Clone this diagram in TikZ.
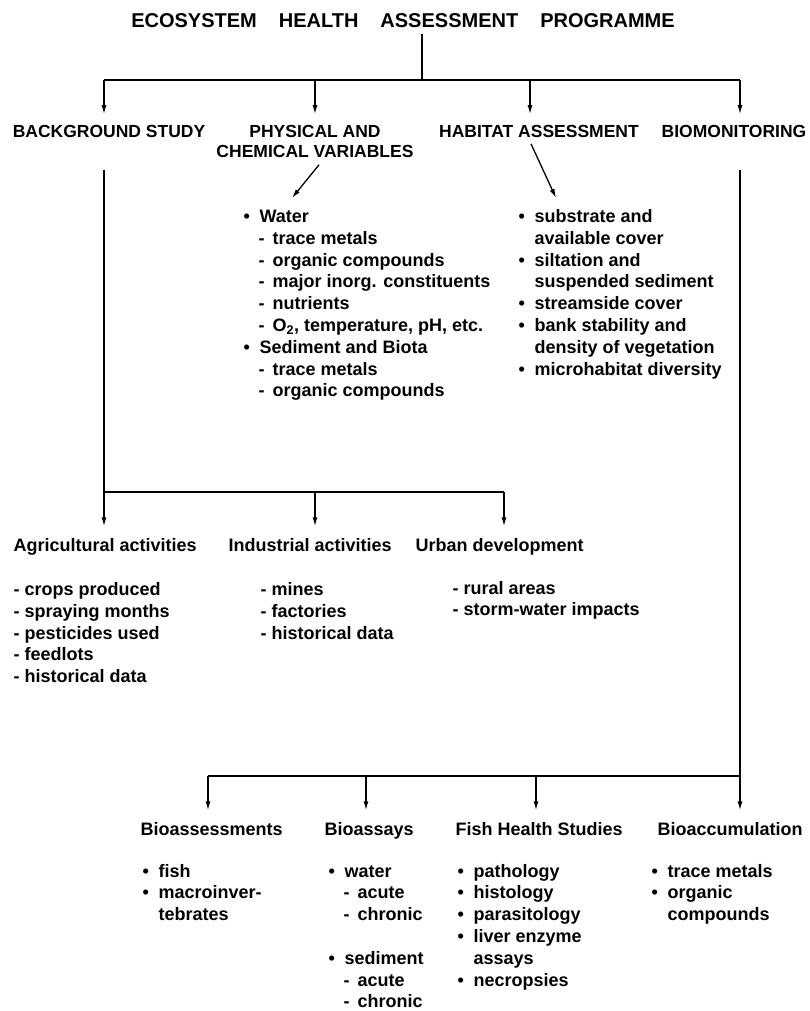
\documentclass[tikz,border=0pt]{standalone}
\usepackage{fontspec}
\setmainfont{Liberation Sans}
\usetikzlibrary{arrows.meta}

\newcommand{\bul}{\makebox[16pt][l]{\textbullet}}
\newcommand{\indt}{\hspace*{16pt}}
\newcommand{\dsh}{\hspace*{15pt}\makebox[14pt][l]{-}}

\tikzset{
  ttl/.style={font=\fontsize{20}{24}\selectfont\bfseries, anchor=base, inner sep=0pt},
  head/.style={font=\fontsize{17.5}{20}\selectfont\bfseries, align=center, anchor=base, inner sep=0pt},
  lab/.style={font=\fontsize{18}{21.8}\selectfont\bfseries, anchor=base west, inner sep=0pt},
  lst/.style={font=\fontsize{18}{21.8}\selectfont\bfseries, align=left, anchor=base west, inner sep=0pt},
  darr/.style={line width=1.3pt, -{Latex[length=9pt,width=5pt]}},
  farr/.style={darr, shorten >=11pt},
  every path/.style={line width=1.3pt}
}

\begin{document}
\begin{tikzpicture}[x=1pt,y=-1pt]
\useasboundingbox (0,0) rectangle (809,1011);

% Title and main spine
\node[ttl] (eha) at (403,28) {ECOSYSTEM\hspace{22pt}HEALTH\hspace{22pt}ASSESSMENT\hspace{22pt}PROGRAMME};
\coordinate (hub) at (422,80);
\coordinate (b1) at (104,80);
\coordinate (b2) at (315,80);
\coordinate (b3) at (530,80);
\coordinate (b4) at (740,80);
\draw[shorten <=5pt] (eha.south -| hub) -- (hub);
\draw (b1) -- (b4);

% First row of headings (multi-line nodes sit on their last baseline)
\node[head] (bgs) at (109,138) {BACKGROUND STUDY};
\node[head] (pcv) at (315,158) {PHYSICAL AND\\CHEMICAL VARIABLES};
\node[head] (hab) at (539,138) {HABITAT ASSESSMENT};
\node[head] (bio) at (734,138) {BIOMONITORING};
\draw[farr] (b1) -- (b1 |- bgs.north);
\draw[farr] (b2) -- (b2 |- pcv.north);
\draw[farr] (b3) -- (b3 |- hab.north);
\draw[farr] (b4) -- (b4 |- bio.north);

% Variables and habitat lists
\coordinate (wtip) at (292,198);
\coordinate (htip) at (556,198);
\draw[darr] ([xshift=4pt,yshift=-6pt]pcv.south) -- (wtip);
\draw[darr] ([xshift=-8pt,yshift=-5pt]hab.south) -- (htip);
\node[lst] (wat) at (243,396.9) {\bul Water\\
  \dsh trace metals\\
  \dsh organic compounds\\
  \dsh major inorg. constituents\\
  \dsh nutrients\\
  \dsh O\textsubscript{2}, temperature, pH, etc.\\
  \bul Sediment and Biota\\
  \dsh trace metals\\
  \dsh organic compounds};
\node[lst] (hbl) at (518,375.1) {\bul substrate and\\
  \indt available cover\\
  \bul siltation and\\
  \indt suspended sediment\\
  \bul streamside cover\\
  \bul bank stability and\\
  \indt density of vegetation\\
  \bul microhabitat diversity};

% Background study branch
\coordinate (drop1) at (104,170);
\coordinate (l1) at (104,492);
\coordinate (l2) at (315,492);
\coordinate (l3) at (504,492);
\draw (drop1) -- (l1) -- (l3);
\node[lab] (agr) at (13,551) {Agricultural activities};
\node[lab] (ind) at (228,551) {Industrial activities};
\node[lab] (urb) at (415,551) {Urban development};
\draw[farr] (l1) -- (l1 |- agr.north);
\draw[farr] (l2) -- (l2 |- ind.north);
\draw[farr] (l3) -- (l3 |- urb.north);
\node[lst] (agl) at (13,682.7) {- crops produced\\- spraying months\\- pesticides used\\- feedlots\\- historical data};
\node[lst] (inl) at (260,639.1) {- mines\\- factories\\- historical data};
\node[lst] (url) at (452,615.8) {- rural areas\\- storm-water impacts};

% Biomonitoring branch
\coordinate (drop2) at (740,170);
\coordinate (r1) at (208,776);
\coordinate (r2) at (366,776);
\coordinate (r3) at (536,776);
\coordinate (r4) at (740,776);
\node[lab] (bas) at (140,835) {Bioassessments};
\node[lab] (bay) at (324,835) {Bioassays};
\node[lab] (fhs) at (455,835) {Fish Health Studies};
\node[lab] (bac) at (657,835) {Bioaccumulation};
\draw[farr] (drop2) -- (drop2 |- bac.north);
\draw (r4) -- (r1);
\draw[farr] (r1) -- (r1 |- bas.north);
\draw[farr] (r2) -- (r2 |- bay.north);
\draw[farr] (r3) -- (r3 |- fhs.north);
\node[lst] (basl) at (142,920.6) {\bul fish\\\bul macroinver-\\\indt tebrates};
\node[lst] (bayl) at (328,1007.8) {\bul water\\\dsh acute\\\dsh chronic\\[21.8pt]\bul sediment\\\dsh acute\\\dsh chronic};
\node[lst] (fhl) at (457,986) {\bul pathology\\\bul histology\\\bul parasitology\\\bul liver enzyme\\\indt assays\\\bul necropsies};
\node[lst] (bacl) at (651,920.6) {\bul trace metals\\\bul organic\\\indt compounds};
\end{tikzpicture}
\end{document}
